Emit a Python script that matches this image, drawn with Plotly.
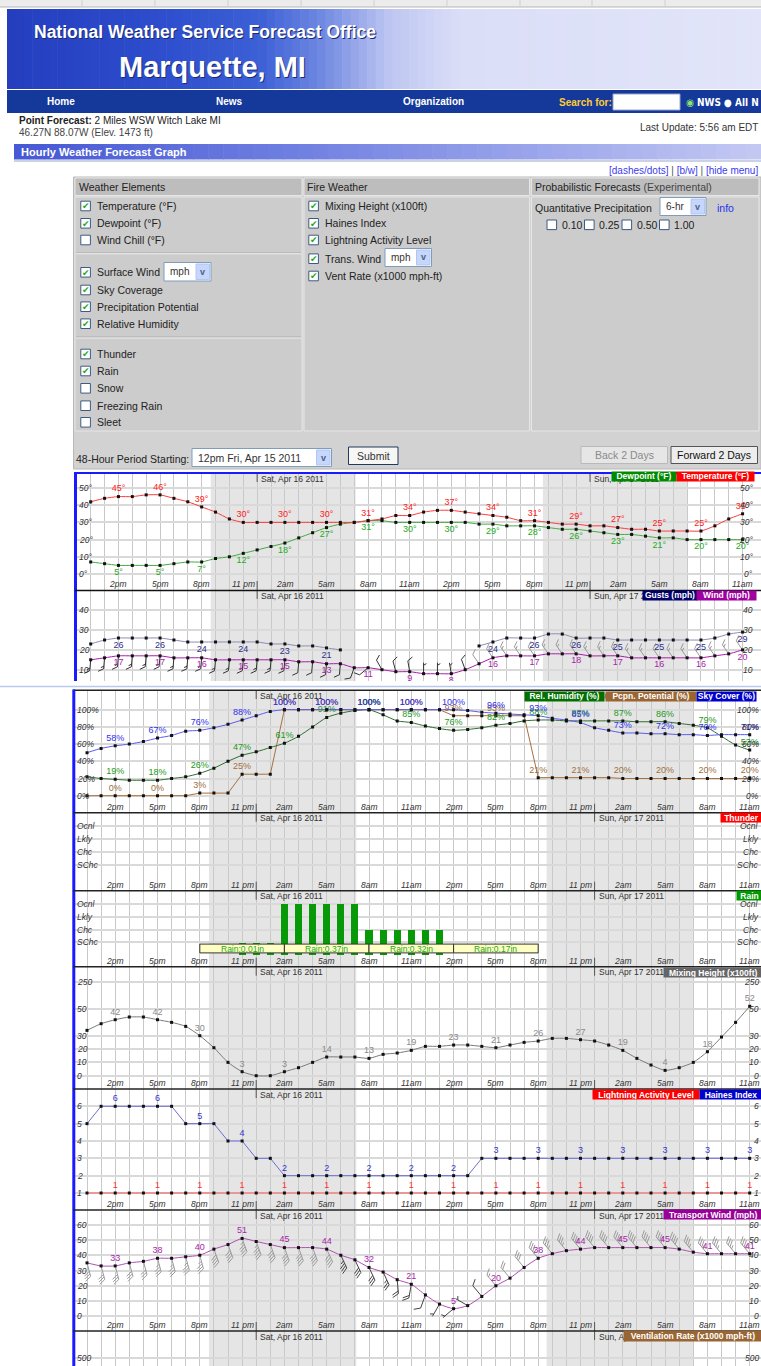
import math
import plotly.graph_objects as go

W, H = 761, 1366
FONT = "Liberation Sans, Arial, sans-serif"

# ---------------- data ----------------
hours = list(range(48))
tick_hours = [2, 5, 8, 11, 14, 17, 20, 23, 26, 29, 32, 35, 38, 41, 44, 47]
tick_labels = ["2pm", "5pm", "8pm", "11 pm", "2am", "5am", "8am", "11am",
               "2pm", "5pm", "8pm", "11 pm", "2am", "5am", "8am", "11am"]
midnights = [12, 36]
day_labels = ["Sat, Apr 16 2011", "Sun, Apr 17 2011"]
night_start = [8.65, 32.6]
night_end = [19.1, 43.05]

temperature = [42, 44, 45, 45, 46, 46, 44, 42, 39, 36, 32, 30, 30, 30, 30, 30, 30, 30, 30, 30, 31,
               32, 34, 34, 36, 37, 37, 36, 35, 34, 33, 31, 31, 30, 29, 29, 28, 28, 27, 26, 26,
               25, 25, 25, 25, 28, 32, 35]
dewpoint = [7, 6, 5, 5, 5, 5, 6, 7, 7, 9, 10, 12, 14, 16, 18, 21, 24, 27, 29, 30, 31,
            31, 30, 30, 30, 30, 30, 30, 29, 29, 28, 28, 28, 27, 26, 26, 25, 24, 23, 23, 22,
            21, 21, 20, 20, 20, 20, 20]
gusts = [23, 25, 26, 26, 26, 26, 25, 24, 24, 24, 24, 24, 24, 23, 23, 22, 22, 21, 20] + [None] * 9 + \
        [22, 24, 26, 26, 26, 28, 28, 26, 26, 26, 25, 25, 25, 25, 25, 25, 25, 26, 28, 29]
wind = [15, 16, 17, 17, 17, 17, 16, 16, 16, 15, 15, 15, 15, 15, 15, 14, 14, 13, 13, 11, 11,
        10, 9, 9, 8, 8, 8, 10, 13, 16, 17, 17, 17, 18, 18, 18, 17, 17, 17, 16, 16,
        16, 16, 16, 16, 17, 18, 20]
wind_dir = [185] * 19 + [200, 230, 330, 345, 350, 0, 0, 350, 340] + [325] * 20

rel_humidity = [22, 20, 19, 18, 18, 18, 20, 22, 26, 32, 40, 47, 51, 56, 61, 69, 80, 91, 96, 99, 100,
                94, 87, 85, 81, 78, 76, 77, 79, 82, 84, 87, 88, 88, 87, 87, 87, 87, 87, 86, 86,
                86, 84, 82, 79, 69, 59, 53]
pcpn_potential = [0] * 8 + [3] * 3 + [25] * 3 + [100] * 12 + [93] * 6 + [21] * 6 + [20] * 10
sky_cover = [50, 55, 58, 60, 63, 67, 70, 75, 76, 79, 83, 88, 93, 98, 100] + [100] * 12 + \
            [99, 97, 96, 95, 94, 93, 90, 88, 85, 79, 76, 73, 73, 72, 72, 71, 71, 70, 71, 71, 71]

rain_levels = [0] * 11 + [1] * 3 + [4] * 6 + [2] * 6 + [0] * 22
rain_periods = [8, 14, 20, 26]
rain_amounts = ["0.01", "0.37", "0.32", "0.17"]

mixing_height = [34, 39, 42, 44, 44, 42, 40, 37, 30, 21, 10, 3, 0, 0, 3, 6, 10, 14, 14, 14,
                 13, 16, 17, 19, 22, 22, 23, 23, 22, 21, 23, 25, 26, 28, 28, 27, 26, 23, 19, 13,
                 8, 4, 6, 10, 18, 29, 40, 52]
haines = [5, 6, 6, 6, 6, 6, 6, 5, 5, 5, 4, 4, 3, 3] + [2] * 14 + [3] * 20
lightning = [1] * 48
transport_wind = [35, 33, 33, 35, 36, 38, 38, 39, 40, 44, 47, 51, 49, 47, 45, 45, 45, 44, 40, 37,
                  32, 29, 24, 21, 14, 8, 5, 7, 13, 20, 25, 32, 38, 41, 43, 44, 45, 45, 45, 45,
                  45, 45, 44, 42, 41, 41, 41, 41]
transport_dir = [165] * 9 + [160] * 8 + [155] * 5 + [175, 190, 200, 210, 230, 300] + [320] * 20

level_ticks = [1, 2, 3, 4]
level_names = ["SChc", "Chc", "Lkly", "Ocnl"]

# ---------------- helpers ----------------
shapes, annotations, traces = [], [], []


def P(x):
    return x / W


def Q(y):
    return 1 - y / H


def rect(x0, y0, x1, y1, fill, line=None, lw=1):
    shapes.append(dict(type="rect", xref="paper", yref="paper", x0=P(x0), x1=P(x1),
                       y0=Q(y1), y1=Q(y0), fillcolor=fill,
                       line=dict(color=line if line else fill, width=lw if line else 0),
                       layer="above"))


def hline(x0, x1, y, color, w=1):
    shapes.append(dict(type="line", xref="paper", yref="paper", x0=P(x0), x1=P(x1),
                       y0=Q(y), y1=Q(y), line=dict(color=color, width=w), layer="above"))


def vline(x, y0, y1, color, w=1):
    shapes.append(dict(type="line", xref="paper", yref="paper", x0=P(x), x1=P(x),
                       y0=Q(y0), y1=Q(y1), line=dict(color=color, width=w), layer="above"))


def text(x, y, s, size=10, color="#000", anchor="left", bold=False, italic=False, family=FONT):
    if bold:
        s = "<b>" + s + "</b>"
    if italic:
        s = "<i>" + s + "</i>"
    annotations.append(dict(xref="paper", yref="paper", x=P(x), y=Q(y), text=s, showarrow=False,
                            xanchor=anchor, yanchor="middle",
                            font=dict(family=family, size=size, color=color)))


def interp(stops, x):
    for (xa, ca), (xb, cb) in zip(stops[:-1], stops[1:]):
        if xa <= x <= xb:
            t = (x - xa) / (xb - xa)
            c = [round(ca[k] + (cb[k] - ca[k]) * t) for k in range(3)]
            return "rgb(%d,%d,%d)" % tuple(c)
    c = stops[-1][1] if x > stops[-1][0] else stops[0][1]
    return "rgb(%d,%d,%d)" % tuple(c)


def grad_rect(x0, x1, y0, y1, stops, n):
    step = (x1 - x0) / n
    for i in range(n):
        xa = x0 + step * i
        rect(xa, y0, xa + step + 0.6, y1, interp(stops, xa + step / 2))


def checkbox(x, yc, checked):
    rect(x, yc - 4.8, x + 9.6, yc + 4.8, "#ffffff", "#3d5a80", 1)
    if checked:
        text(x + 4.9, yc + 0.3, "✔", size=9, color="#22a822", anchor="center",
             family="DejaVu Sans")


def select(x0, x1, y0, y1, label, size=10):
    rect(x0, y0, x1, y1, "#ffffff", "#7f9db9", 1)
    rect(x1 - 15, y0 + 1.5, x1 - 1.5, y1 - 1.5, "#c6d6fc", "#b2c6f2", 1)
    text(x1 - 8.2, (y0 + y1) / 2, "v", size=9, color="#4d6185", anchor="center", bold=True)
    text(x0 + 4, (y0 + y1) / 2, label, size=size, color="#333")


# ---------------- page header ----------------
rect(0, 0, 761, 7, "#ececec")
hline(0, 761, 7, "#b5b5b5", 1)
for xd in [82, 155, 228, 301, 374, 447, 520, 592, 665]:
    vline(xd, 0, 6.5, "#d0d0d0", 1)

grad_rect(7, 761, 9, 89,
          [(7, (36, 62, 190)), (150, (44, 76, 204)), (260, (60, 96, 214)), (320, (110, 135, 225)),
           (390, (190, 198, 242)), (460, (218, 222, 247)), (761, (226, 229, 249))], 90)
text(33, 33, "National Weather Service Forecast Office", size=17.5, color="#1b2a70", bold=True)
text(32, 32, "National Weather Service Forecast Office", size=17.5, color="#ffffff", bold=True)
text(118, 68, "Marquette, MI", size=29, color="#1b2a70", bold=True)
text(117, 67, "Marquette, MI", size=29, color="#ffffff", bold=True)

rect(7, 90, 761, 113, "#15399a")
text(61, 102, "Home", size=10, color="#ffffff", bold=True, anchor="center")
text(229, 102, "News", size=10, color="#ffffff", bold=True, anchor="center")
text(433, 102, "Organization", size=10, color="#ffffff", bold=True, anchor="center")
text(557, 102.5, "Search for:", size=10, color="#ffcc33", bold=True)
rect(613, 94, 680, 110, "#ffffff", "#9aa6c8", 1)
text(684, 102.5, '<span style="color:#8fe36a">◉</span> NWS ● All N', size=10, color="#ffffff",
     bold=True, family="DejaVu Sans Condensed, Liberation Sans")

text(17, 121, "<b>Point Forecast:</b> 2 Miles WSW Witch Lake MI", size=10, color="#222")
text(17, 132.5, "46.27N 88.07W (Elev. 1473 ft)", size=10, color="#444")
text(760, 127, "Last Update: 5:56 am EDT", size=10, color="#333", anchor="right")

grad_rect(14, 761, 144, 159.5,
          [(14, (70, 88, 212)), (300, (112, 128, 225)), (761, (196, 201, 243))], 50)
text(19, 152, "Hourly Weather Forecast Graph", size=11, color="#ffffff", bold=True)
hline(14, 761, 161, "#9aa3d0", 1)

text(760, 170.5, '[dashes/dots] <span style="color:#555">|</span> [b/w] '
                 '<span style="color:#555">|</span> [hide menu]',
     size=10, color="#3a3af0", anchor="right")

# ---------------- menu box ----------------
rect(73.5, 177, 761, 469, "#d2d2d2", "#b8b8b8", 1)
col_x = [(75, 302), (304, 529.5), (531.5, 759)]
for (a, b) in col_x:
    rect(a, 178, b, 195.5, "#bdbdbd", "#e6e6e6", 1)
    rect(a, 197, b, 431, "#cccccc", "#e6e6e6", 1)
hline(76, 301, 253.5, "#eeeeee", 1.5)
hline(76, 301, 337.8, "#eeeeee", 1.5)
hline(76, 301, 252.7, "#aaaaaa", 0.8)
hline(76, 301, 337, "#aaaaaa", 0.8)
text(77, 186.5, "Weather Elements", size=10.5, color="#222")
text(305, 186.5, "Fire Weather", size=10.5, color="#222")
text(533, 186.5, 'Probabilistic Forecasts <span style="color:#444">(Experimental)</span>',
     size=10.5, color="#222")

we_items = [("Temperature (°F)", 206, True), ("Dewpoint (°F)", 223.3, True),
            ("Wind Chill (°F)", 240, False), ("Surface Wind", 272.3, True),
            ("Sky Coverage", 290, True), ("Precipitation Potential", 306.7, True),
            ("Relative Humidity", 323.7, True), ("Thunder", 354, True), ("Rain", 371, True),
            ("Snow", 388.3, False), ("Freezing Rain", 405.7, False), ("Sleet", 422.3, False)]
for lab, yc, chk in we_items:
    checkbox(80.8, yc, chk)
    text(94.5, yc, lab, size=10.5, color="#222")
select(164, 211, 262.5, 281, "mph")

fw_items = [("Mixing Height (x100ft)", 206, True), ("Haines Index", 223.3, True),
            ("Lightning Activity Level", 240, True), ("Trans. Wind", 258.7, True),
            ("Vent Rate (x1000 mph-ft)", 276, True)]
for lab, yc, chk in fw_items:
    checkbox(308.8, yc, chk)
    text(322.5, yc, lab, size=10.5, color="#222")
select(385, 431.5, 248.5, 266.5, "mph")

text(533, 208, "Quantitative Precipitation", size=10.5, color="#222")
select(660, 706, 197.5, 215.5, "6-hr")
text(714.5, 208.5, "info", size=10.5, color="#2233ee")
for xb, lab in [(547, "0.10"), (584.5, "0.25"), (622, "0.50"), (659.5, "1.00")]:
    checkbox(xb, 224.8, False)
    text(xb + 12.5, 224.8, lab, size=10.5, color="#222")

text(73.5, 459, "48-Hour Period Starting:", size=10.5, color="#222")
select(192, 331.5, 448.5, 466.5, "12pm Fri, Apr 15 2011", size=10.5)
rect(348.5, 447, 398, 464.5, "#f6f6f4", "#22385e", 1)
text(373.2, 455.8, "Submit", size=10.5, color="#333", anchor="center")
rect(581, 446.5, 667.5, 463.5, "#e6e6e6", "#b9b9b9", 1)
text(624.3, 455, "Back 2 Days", size=10.5, color="#8a8a8a", anchor="center")
rect(671, 446.5, 757.5, 463.5, "#ededed", "#555555", 1)
text(714.3, 455, "Forward 2 Days", size=10.5, color="#111", anchor="center")

# ---------------- chart panels ----------------
XMAP = {"top": (90.7, 13.87, 75.0), "low": (87.0, 14.1, 73.0)}
panels = [
    dict(top=473.0, bot=590.0, xm="top", yr=(50, 488.0, 0, 574.0),
         ticks=[0, 10, 20, 30, 40, 50], tt=[f"{v}°" for v in [0, 10, 20, 30, 40, 50]],
         xlabels=True),
    dict(top=590.0, bot=681.0, xm="top", yr=(40, 610.3, 10, 669.7),
         ticks=[10, 20, 30, 40], tt=["10", "20", "30", "40"], xlabels=False),
    dict(top=690.0, bot=812.7, xm="low", yr=(100, 709.7, 0, 795.7),
         ticks=[0, 20, 40, 60, 80, 100], tt=[f"{v}%" for v in [0, 20, 40, 60, 80, 100]],
         xlabels=True),
    dict(top=812.7, bot=890.7, xm="low", yr=(4, 825.7, 1, 865.0),
         ticks=level_ticks, tt=level_names, xlabels=True),
    dict(top=890.7, bot=966.7, xm="low", yr=(4, 904.0, 1, 942.3),
         ticks=level_ticks, tt=level_names, xlabels=True),
    dict(top=966.7, bot=1089.0, xm="low", yr=(30, 1035.7, 0, 1075.7),
         ticks=[0, 10, 20, 30, 50, 70.6], tt=["0", "10", "20", "30", "50", "250"], xlabels=True),
    dict(top=1089.0, bot=1210.0, xm="low", yr=(6, 1106.3, 1, 1193.0),
         ticks=[1, 2, 3, 4, 5, 6], tt=["1", "2", "3", "4", "5", "6"], xlabels=True),
    dict(top=1210.0, bot=1331.0, xm="low", yr=(60, 1224.7, 0, 1316.3),
         ticks=[0, 10, 20, 30, 40, 50, 60], tt=[str(v) for v in range(0, 61, 10)], xlabels=True),
    dict(top=1331.0, bot=1366.0, xm="low", yr=(500, 1358.0, 400, 1371.0),
         ticks=[400, 500], tt=["400", "500"], xlabels=False),
]

layout = dict(width=W, height=H, margin=dict(l=0, r=0, t=0, b=0), paper_bgcolor="#ffffff",
              plot_bgcolor="#ffffff", showlegend=False, font=dict(family=FONT),
              bargap=0)

for i, pn in enumerate(panels, 1):
    x0, dx, L = XMAP[pn["xm"]]
    v1, p1, v2, p2 = pn["yr"]
    ppu = (p2 - p1) / (v1 - v2)
    pn["ppu"] = ppu
    pn["dx"] = dx
    ybot = v1 + (p1 - pn["bot"]) / ppu
    ytop = v1 + (p1 - pn["top"]) / ppu
    sfx = "" if i == 1 else str(i)
    pn["xr"], pn["yref"] = "x" + sfx, "y" + sfx
    layout["xaxis" + sfx] = dict(domain=[P(L), 1.0], range=[(L - x0) / dx, (W - x0) / dx],
                                 tickvals=hours, showticklabels=False, ticks="",
                                 showgrid=True, gridcolor="#c9c9c9", gridwidth=1,
                                 zeroline=False, showline=False, fixedrange=True,
                                 anchor="y" + sfx)
    layout["yaxis" + sfx] = dict(domain=[Q(pn["bot"]), Q(pn["top"])], range=[ybot, ytop],
                                 tickvals=pn["ticks"], showticklabels=False, ticks="",
                                 showgrid=True, gridcolor="#d9d9d9", gridwidth=2,
                                 zeroline=False, showline=False, fixedrange=True,
                                 anchor="x" + sfx)
    for a, b in zip(night_start, night_end):
        shapes.append(dict(type="rect", xref=pn["xr"], yref=pn["yref"] + " domain", x0=a, x1=b,
                           y0=0, y1=1, fillcolor="#e5e5e5", line=dict(width=0), layer="below"))
    for m, dl in zip(midnights, day_labels):
        shapes.append(dict(type="line", xref=pn["xr"], yref="paper", x0=m, x1=m,
                           y0=Q(pn["top"] + 9), y1=Q(pn["top"]),
                           line=dict(color="#555", width=1), layer="above"))
        if pn["xlabels"]:
            shapes.append(dict(type="line", xref=pn["xr"], yref="paper", x0=m, x1=m,
                               y0=Q(pn["bot"]), y1=Q(pn["bot"] - 9),
                               line=dict(color="#555", width=1), layer="above"))
        annotations.append(dict(xref=pn["xr"], yref="paper", x=m, y=Q(pn["top"] + 5.5),
                                xshift=2, text=dl, showarrow=False, xanchor="left",
                                yanchor="middle", font=dict(family=FONT, size=8.5, color="#333")))
    if pn["xlabels"]:
        for h, t in zip(tick_hours, tick_labels):
            annotations.append(dict(xref=pn["xr"], yref="paper", x=h, y=Q(pn["bot"] - 6),
                                    text="<i>" + t + "</i>", showarrow=False, xanchor="center",
                                    yanchor="middle",
                                    font=dict(family=FONT, size=8.5, color="#333")))
    lx = L + 1.5
    rx = 755.0 if pn["xm"] == "top" else 761.0
    for v, t in zip(pn["ticks"], pn["tt"]):
        if not (min(ybot, ytop) <= v <= max(ybot, ytop)):
            continue
        for xx, anc in [(lx, "left"), (rx, "right")]:
            annotations.append(dict(xref="paper", yref=pn["yref"], x=P(xx), y=v,
                                    text="<i>" + t + "</i>", showarrow=False, xanchor=anc,
                                    yanchor="middle",
                                    font=dict(family=FONT, size=8.5, color="#333")))


def labels3(vals, suffix=""):
    return [(f"{v}{suffix}" if (h in tick_hours and v is not None) else "")
            for h, v in zip(hours, vals)]


def series(pi, vals, lcolor, tcolor, pos, suffix="", shape="spline", lw=1):
    pn = panels[pi - 1]
    traces.append(go.Scatter(
        x=hours, y=vals, mode="lines+markers+text", xaxis=pn["xr"], yaxis=pn["yref"],
        line=dict(color=lcolor, width=lw, shape=shape, smoothing=0.6) if shape == "spline"
        else dict(color=lcolor, width=lw),
        marker=dict(symbol="square", size=3, color="#111"),
        text=labels3(vals, suffix), textposition=pos,
        textfont=dict(family=FONT, size=9, color=tcolor),
        cliponaxis=True, connectgaps=False, hoverinfo="skip"))


def barbs(pi, vals, dirs, L, fl, sp, colors, split):
    pn = panels[pi - 1]
    ppx, ppy = pn["dx"], pn["ppu"]
    groups = {0: ([], []), 1: ([], [])}
    ca, sa = math.cos(math.radians(-60)), math.sin(math.radians(-60))
    for h, v, d in zip(hours, vals, dirs):
        g = 0 if h < split[0] or h >= split[1] else 1
        xs, ys = groups[g]
        n5 = int(round(v * 0.869 / 5.0))
        full, half = divmod(n5, 2)
        a = math.radians(d)
        ux, uy = math.sin(a), math.cos(a)
        xs += [h, h + ux * L / ppx, None]
        ys += [v, v + uy * L / ppy, None]
        fx, fy = ux * ca - uy * sa, ux * sa + uy * ca
        pos = L
        for k in range(full):
            bx, by = ux * pos, uy * pos
            xs += [h + bx / ppx, h + (bx + fx * fl) / ppx, None]
            ys += [v + by / ppy, v + (by + fy * fl) / ppy, None]
            pos -= sp
        if half:
            if full == 0:
                pos -= sp
            bx, by = ux * pos, uy * pos
            xs += [h + bx / ppx, h + (bx + fx * fl * 0.55) / ppx, None]
            ys += [v + by / ppy, v + (by + fy * fl * 0.55) / ppy, None]
    for g in (0, 1):
        xs, ys = groups[g]
        traces.append(go.Scatter(x=xs, y=ys, mode="lines", xaxis=pn["xr"], yaxis=pn["yref"],
                                 line=dict(color=colors[g], width=1), cliponaxis=True,
                                 hoverinfo="skip"))


series(1, dewpoint, "#44aa44", "#22aa22", "bottom center", "°")
series(1, temperature, "#ff3b3b", "#ff1a1a", "top center", "°")
barbs(2, wind, wind_dir, 11, 6, 2.6, ("#9a9a9a", "#333333"), (0, 28))
series(2, gusts, "#8c8cb4", "#2e2e8a", "bottom center")
series(2, wind, "#aa1caa", "#aa22aa", "bottom center")
series(3, pcpn_potential, "#a8703c", "#a0703c", "top center", "%", shape="linear")
series(3, rel_humidity, "#2c6e2c", "#229922", "top center", "%")
series(3, sky_cover, "#5a5af0", "#3030ee", "top center", "%")
p5 = panels[4]
traces.append(go.Bar(x=hours, y=rain_levels, width=0.5, marker=dict(color="#079907", line=dict(width=0)),
                     xaxis=p5["xr"], yaxis=p5["yref"], hoverinfo="skip"))
for s, amt in zip(rain_periods, rain_amounts):
    shapes.append(dict(type="rect", xref=p5["xr"], yref=p5["yref"], x0=s, x1=s + 6, y0=0.17, y1=0.86,
                       fillcolor="#ffffc4", line=dict(color="#333", width=1), layer="above"))
    annotations.append(dict(xref=p5["xr"], yref=p5["yref"], x=s + 3, y=0.5, text="Rain:" + amt + "in",
                            showarrow=False, xanchor="center", yanchor="middle",
                            font=dict(family=FONT, size=8.5, color="#22aa22")))
series(6, mixing_height, "#7a7a7a", "#8a8a8a", "top center")
series(7, lightning, "#ff5555", "#ff3333", "top center", shape="linear")
series(7, haines, "#6c6cd8", "#3333cc", "top center", shape="linear")
barbs(8, transport_wind, transport_dir, 14, 7, 2.6, ("#9a9a9a", "#444444"), (18, 29))
series(8, transport_wind, "#b050b0", "#aa22aa", "top center")

hline(75, 761, 473, "#1a1aff", 2)
vline(75.5, 472, 681, "#1a1aff", 3)
hline(75, 761, 590.5, "#111", 1.5)
hline(0, 761, 686.5, "#b9c9ee", 1.5)
hline(73, 761, 690.3, "#222", 1.5)
vline(73.8, 689.5, 1366, "#1a1aff", 3)
for yb in [812.7, 890.7, 966.7, 1089.0, 1210.0, 1331.0]:
    hline(73, 761, yb, "#222", 1.5)

legend_boxes = [
    (611, 64, 476.7, 8.5, "Dewpoint (°F)", "#008a00"),
    (676, 77, 476.7, 8.5, "Temperature (°F)", "#ff0000"),
    (641.7, 54, 595.5, 8.5, "Gusts (mph)", "#00006a"),
    (696, 59, 595.5, 8.5, "Wind (mph)", "#a000a0"),
    (524, 79, 696.2, 8.5, "Rel. Humidity (%)", "#007000"),
    (605, 90, 696.2, 8.5, "Pcpn. Potential (%)", "#996633"),
    (696, 59, 696.2, 8.5, "Sky Cover (%)", "#0000cc"),
    (720, 41, 817.2, 9, "Thunder", "#ff0000"),
    (736, 25, 895.6, 9, "Rain", "#009900"),
    (662.5, 98.5, 972.2, 9, "Mixing Height (x100ft)", "#666666"),
    (592, 106, 1094.2, 9, "Lightning Activity Level", "#ff0000"),
    (699, 62, 1094.2, 9, "Haines Index", "#0000cc"),
    (662.5, 98.5, 1214.7, 9, "Transport Wind (mph)", "#990099"),
    (623, 138, 1336.0, 9.5, "Ventilation Rate (x1000 mph-ft)", "#996633"),
]
for xl, w, yc, hh, t, col in legend_boxes:
    annotations.append(dict(xref="paper", yref="paper", x=P(xl), y=Q(yc), xanchor="left",
                            yanchor="middle", text="<b>" + t + "</b>", showarrow=False,
                            width=w, height=hh, bgcolor=col, borderpad=0, align="center",
                            font=dict(family=FONT, size=8.5, color="#ffffff")))

layout["shapes"] = shapes
layout["annotations"] = annotations
fig = go.Figure(data=traces, layout=layout)
fig.write_html("out.html", config={"displayModeBar": False},
               post_script="document.body.style.margin='0';document.body.style.overflow='hidden';")
